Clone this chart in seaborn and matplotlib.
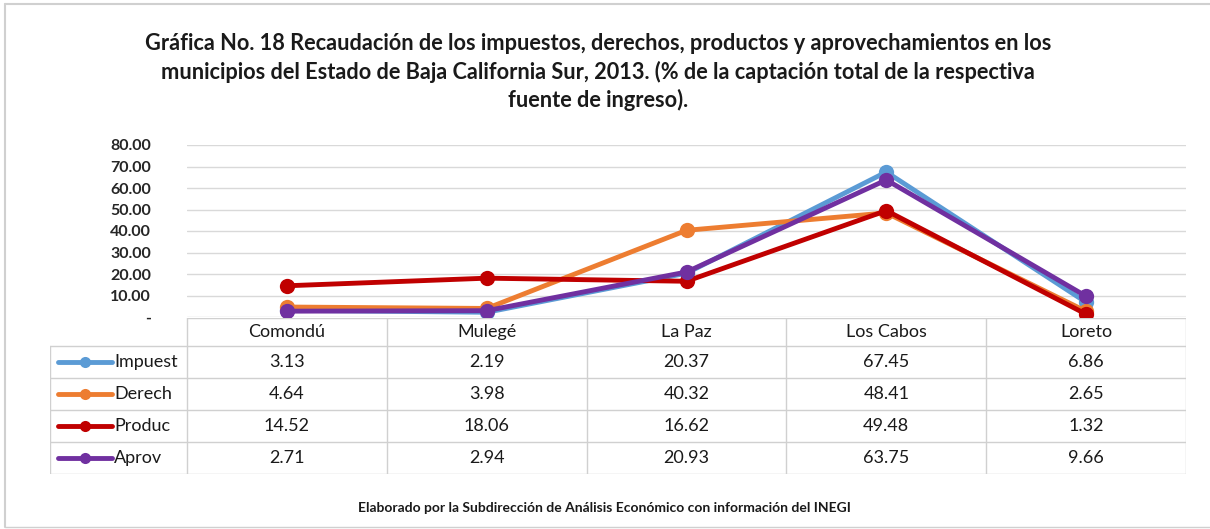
import pandas as pd
import matplotlib.pyplot as plt
import seaborn as sns

# Datos
municipios = ['Comondú', 'Mulegé', 'La Paz', 'Los Cabos', 'Loreto']
series = ['Impuest', 'Derech', 'Produc', 'Aprov']
impuest = [3.13, 2.19, 20.37, 67.45, 6.86]
derech = [4.64, 3.98, 40.32, 48.41, 2.65]
produc = [14.52, 18.06, 16.62, 49.48, 1.32]
aprov = [2.71, 2.94, 20.93, 63.75, 9.66]
yticks = [0, 10, 20, 30, 40, 50, 60, 70, 80]
colores = ['#5B9BD5', '#ED7D31', '#C00000', '#7030A0']

titulo = ('Gráfica No. 18 Recaudación de los impuestos, derechos, productos y aprovechamientos en los\n'
          'municipios del Estado de Baja California Sur, 2013. (% de la captación total de la respectiva\n'
          'fuente de ingreso).')
nota = 'Elaborado por la Subdirección de Análisis Económico con información del INEGI'

valores = [impuest, derech, produc, aprov]
df = pd.DataFrame({
    'municipio': [m for _ in series for m in municipios],
    'x': [i for _ in series for i in range(len(municipios))],
    'serie': [s for s in series for _ in municipios],
    'valor': [v for vals in valores for v in vals],
})

sns.set_style('white')
plt.rcParams['font.family'] = ['Lato', 'DejaVu Sans']

W, H = 1210, 529
fig = plt.figure(figsize=(W / 100, H / 100), dpi=100)


def fx(px):
    return px / W


def fy(py):
    return 1 - py / H


# Marco (arriba, izquierda, abajo)
borde = '#D0D0D0'
fig.add_artist(plt.Line2D([fx(5), 1], [fy(4), fy(4)], color=borde, lw=1.5))
fig.add_artist(plt.Line2D([fx(5), fx(5)], [fy(4), fy(527)], color=borde, lw=1.5))
fig.add_artist(plt.Line2D([fx(5), 1], [fy(527), fy(527)], color=borde, lw=1.0))

# Titulo
fig.text(0.494, fy(33), titulo, ha='center', va='top', fontsize=15.7, fontweight='bold',
         linespacing=1.36, color='#1a1a1a')

# Grafica de lineas
x0, x1 = 187, 1186
ytop, ybot = 145, 317
ax = fig.add_axes([fx(x0), fy(ybot), fx(x1 - x0), fy(ytop) - fy(ybot)])
sns.lineplot(data=df, x='x', y='valor', hue='serie', palette=colores, marker='o',
             markersize=11, markeredgewidth=0, linewidth=3.5, legend=False, ax=ax)
ax.set_xlim(-0.5, len(municipios) - 0.5)
ax.set_ylim(0, 80)
ax.set_xticks([])
ax.set_yticks(yticks)
ax.set_yticklabels(['-' if t == 0 else f'{t:.2f}' for t in yticks], fontsize=11.5, fontweight='bold')
ax.tick_params(axis='y', length=0, pad=26)
ax.yaxis.grid(True, color='#D9D9D9', lw=1)
ax.set_axisbelow(True)
ax.set_xlabel('')
ax.set_ylabel('')
for s in ax.spines.values():
    s.set_visible(False)
ax.patch.set_alpha(0)

# Tabla de datos
tl, tr = 50, 1186
tt, tb = 318, 474
tax = fig.add_axes([fx(tl), fy(tb), fx(tr - tl), fy(tt) - fy(tb)])
tax.set_xlim(tl, tr)
tax.set_ylim(tb, tt)
tax.axis('off')
col_w = (x1 - x0) / len(municipios)
filas = [318, 346, 378, 410, 442, 474]
lc = '#D0D0D0'
tax.plot([x0, x1], [filas[0], filas[0]], color=lc, lw=1)
for y in filas[1:]:
    tax.plot([tl, x1], [y, y], color=lc, lw=1)
tax.plot([tl, tl], [filas[1], filas[-1]], color=lc, lw=1)
for i in range(len(municipios) + 1):
    tax.plot([x0 + i * col_w] * 2, [filas[0], filas[-1]], color=lc, lw=1)
for i, m in enumerate(municipios):
    tax.text(x0 + (i + 0.5) * col_w, (filas[0] + filas[1]) / 2, m, ha='center', va='center',
             fontsize=13, color='#1a1a1a')
for r, (s, vals, c) in enumerate(zip(series, valores, colores)):
    yc = (filas[r + 1] + filas[r + 2]) / 2
    tax.plot([58, 112], [yc, yc], color=c, lw=3.5, solid_capstyle='round')
    tax.plot([85], [yc], marker='o', color=c, markersize=8, markeredgewidth=0)
    tax.text(114, yc, s, ha='left', va='center', fontsize=13, color='#1a1a1a')
    for i, v in enumerate(vals):
        tax.text(x0 + (i + 0.5) * col_w, yc, f'{v:.2f}', ha='center', va='center',
                 fontsize=13, color='#1a1a1a')

# Nota
fig.text(fx(604), fy(508), nota, ha='center', va='center', fontsize=10, fontweight='bold', color='#1a1a1a')

fig.savefig('out.png', dpi=100)
